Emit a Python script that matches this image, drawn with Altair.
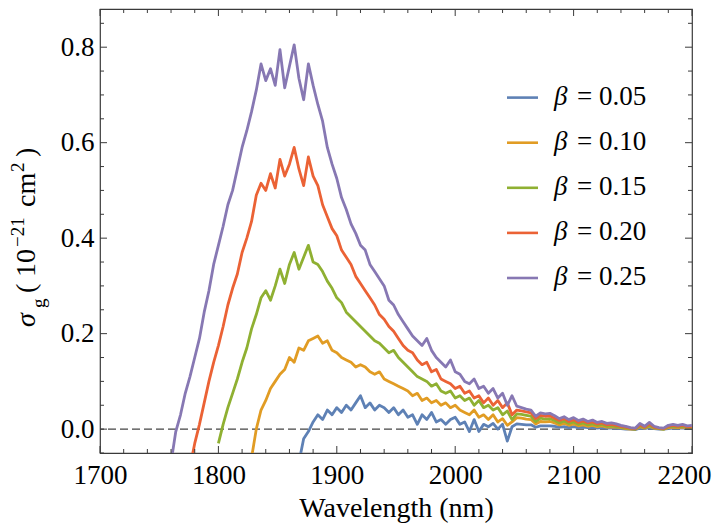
import altair as alt
import pandas as pd

# ---------------- data ----------------
STEP = 4  # nm sampling of every series

start_005 = 1868
vals_005 = [
    -0.07, -0.02, -0.005, 0.015, 0.03, 0.02, 0.04, 0.03, 0.045, 0.035,
    0.05, 0.04, 0.055, 0.07, 0.045, 0.055, 0.04, 0.05, 0.045, 0.035,
    0.045, 0.03, 0.04, 0.025, 0.03, 0.01, 0.03, 0.02, 0.035, 0.015,
    0.02, 0.01, 0.02, 0.025, 0.01, 0.015, -0.005, 0.02, -0.005, 0.01,
    0.005, 0.012, 0.0, 0.01, -0.025, 0.005, 0.011, 0.01, 0.009, 0.009,
    0.004, 0.007, 0.007, 0.007, 0.006, 0.004, 0.005, 0.003, 0.005, 0.003,
    0.004, 0.003, 0.003, 0.002, 0.003, 0.002, 0.002, 0.002, 0.001, 0.0,
    0.0, -0.001, 0.002, 0.001, 0.003, 0.001, 0.0, 0.0, 0.001, 0.002,
    0.002, 0.002, 0.002, 0.002,
]

start_010 = 1828
vals_010 = [
    -0.06, 0.0, 0.04, 0.06, 0.085, 0.10, 0.115, 0.125, 0.15, 0.14,
    0.17, 0.165, 0.185, 0.19, 0.195, 0.18, 0.185, 0.165, 0.16, 0.15,
    0.145, 0.14, 0.13, 0.135, 0.13, 0.12, 0.115, 0.12, 0.105, 0.10,
    0.095, 0.09, 0.085, 0.08, 0.07, 0.075, 0.06, 0.065, 0.055, 0.06,
    0.05, 0.055, 0.045, 0.05, 0.04, 0.035, 0.03, 0.04, 0.025, 0.03,
    0.02, 0.03, 0.015, 0.022, 0.008, 0.015, 0.024, 0.023, 0.021, 0.02,
    0.011, 0.016, 0.015, 0.016, 0.013, 0.009, 0.012, 0.008, 0.011, 0.007,
    0.009, 0.006, 0.008, 0.005, 0.007, 0.004, 0.005, 0.004, 0.003, 0.001,
    0.0, 0.0, 0.005, 0.002, 0.006, 0.002, 0.001, 0.0, 0.003, 0.004,
    0.003, 0.004, 0.003, 0.004,
]

start_015 = 1800
vals_015 = [
    -0.03, 0.01, 0.045, 0.075, 0.105, 0.14, 0.17, 0.21, 0.24, 0.275,
    0.29, 0.27, 0.30, 0.335, 0.305, 0.345, 0.37, 0.335, 0.36, 0.385,
    0.35, 0.345, 0.33, 0.31, 0.295, 0.275, 0.265, 0.245, 0.235, 0.225,
    0.215, 0.205, 0.195, 0.185, 0.18, 0.17, 0.16, 0.165, 0.15, 0.14,
    0.13, 0.12, 0.11, 0.105, 0.10, 0.09, 0.095, 0.08, 0.075, 0.08,
    0.065, 0.07, 0.06, 0.065, 0.05, 0.06, 0.045, 0.05, 0.04, 0.045,
    0.03, 0.038, 0.02, 0.032, 0.031, 0.029, 0.027, 0.016, 0.023, 0.021,
    0.022, 0.018, 0.013, 0.017, 0.012, 0.015, 0.01, 0.013, 0.009, 0.011,
    0.008, 0.01, 0.006, 0.007, 0.005, 0.004, 0.002, 0.001, 0.0, 0.007,
    0.003, 0.008, 0.003, 0.001, 0.0, 0.005, 0.006, 0.005, 0.006, 0.004, 0.005,
]

start_020 = 1776
vals_020 = [
    -0.08, -0.03, 0.01, 0.055, 0.10, 0.14, 0.175, 0.215, 0.26, 0.295,
    0.325, 0.37, 0.40, 0.435, 0.49, 0.515, 0.50, 0.535, 0.505, 0.565,
    0.53, 0.555, 0.59, 0.545, 0.51, 0.57, 0.53, 0.51, 0.47, 0.445,
    0.42, 0.405, 0.375, 0.36, 0.345, 0.32, 0.305, 0.29, 0.275, 0.26,
    0.24, 0.23, 0.215, 0.205, 0.19, 0.175, 0.165, 0.16, 0.145, 0.135,
    0.14, 0.12, 0.125, 0.105, 0.10, 0.095, 0.085, 0.09, 0.075, 0.08,
    0.065, 0.07, 0.055, 0.065, 0.05, 0.06, 0.045, 0.055, 0.03, 0.04,
    0.038, 0.036, 0.034, 0.022, 0.029, 0.027, 0.028, 0.023, 0.018, 0.022,
    0.016, 0.02, 0.014, 0.017, 0.013, 0.015, 0.011, 0.013, 0.009, 0.01,
    0.008, 0.006, 0.004, 0.002, 0.001, 0.009, 0.004, 0.011, 0.004, 0.002,
    0.001, 0.006, 0.008, 0.006, 0.008, 0.005, 0.006,
]

start_025 = 1760
vals_025 = [
    -0.07, -0.005, 0.03, 0.075, 0.11, 0.15, 0.19, 0.245, 0.29, 0.345,
    0.385, 0.425, 0.47, 0.50, 0.545, 0.59, 0.625, 0.665, 0.71, 0.765,
    0.73, 0.755, 0.72, 0.795, 0.715, 0.76, 0.805, 0.735, 0.69, 0.765,
    0.72, 0.68, 0.645, 0.59, 0.555, 0.525, 0.485, 0.46, 0.43, 0.41,
    0.385, 0.375, 0.345, 0.33, 0.315, 0.30, 0.27, 0.26, 0.24, 0.225,
    0.21, 0.195, 0.185, 0.175, 0.19, 0.165, 0.15, 0.14, 0.13, 0.145,
    0.12, 0.115, 0.10, 0.095, 0.105, 0.085, 0.09, 0.075, 0.085, 0.065,
    0.075, 0.05, 0.07, 0.048, 0.045, 0.042, 0.04, 0.027, 0.034, 0.032,
    0.033, 0.028, 0.022, 0.026, 0.02, 0.024, 0.018, 0.021, 0.016, 0.019,
    0.014, 0.016, 0.012, 0.013, 0.011, 0.008, 0.006, 0.003, 0.002, 0.012,
    0.006, 0.014, 0.006, 0.003, 0.002, 0.008, 0.01, 0.008, 0.01, 0.007,
    0.008,
]

series_labels = ["0.05", "0.10", "0.15", "0.20", "0.25"]
series_colors = ["#5E81B5", "#E19C24", "#8FB032", "#EB6235", "#8778B3"]
x_major = [1700, 1800, 1900, 2000, 2100, 2200]
x_minor = [v for v in range(1700, 2201, 20) if v % 100 != 0]
y_major = [0.0, 0.2, 0.4, 0.6, 0.8]
y_minor = [-0.05, 0.05, 0.1, 0.15, 0.25, 0.3, 0.35, 0.45, 0.5, 0.55, 0.65, 0.7, 0.75, 0.85]

# ---------------- build table ----------------
rows = []
for lab, st, vals in zip(series_labels,
                         [start_005, start_010, start_015, start_020, start_025],
                         [vals_005, vals_010, vals_015, vals_020, vals_025]):
    for i, v in enumerate(vals):
        rows.append({"wl": st + STEP * i, "v": v, "beta": lab})
df = pd.DataFrame(rows)

W, H = 592, 444
FONT = "Liberation Serif"
FRAME = "#3a3a3a"
XDOM = [1700, 2200]
YDOM = [-0.05, 0.88]
LW = 2.8

xscale = alt.Scale(domain=XDOM, nice=False, zero=False)
yscale = alt.Scale(domain=YDOM, nice=False, zero=False)
xaxis = alt.Axis(values=x_major, format="d", ticks=False, tickSize=0, domain=False, grid=False,
                 labelFont=FONT, labelFontSize=27, labelColor="black", labelPadding=9,
                 labelFlush=False,
                 labelOffset={"condition": {"test": "datum.value == 2200", "value": -8}, "value": 0},
                 title="Wavelength (nm)", titleFont=FONT, titleFontSize=28,
                 titleFontWeight="normal", titleColor="black", titlePadding=6)
yaxis = alt.Axis(values=y_major, format=".1f", ticks=False, tickSize=0, domain=False, grid=False,
                 labelFont=FONT, labelFontSize=27, labelColor="black", labelPadding=6,
                 labelFlush=False, title=None)

X = alt.X("wl:Q", scale=xscale, axis=xaxis)
Y = alt.Y("v:Q", scale=yscale, axis=yaxis)

zero = alt.Chart(pd.DataFrame({"v": [0.0]})).mark_rule(
    color="#444444", strokeDash=[8, 4], strokeWidth=1.1).encode(y=Y)

lines = alt.Chart(df).mark_line(clip=True, strokeWidth=LW, strokeJoin="round").encode(
    x=X, y=Y,
    color=alt.Color("beta:N", scale=alt.Scale(domain=series_labels, range=series_colors), legend=None),
)

layers = [zero, lines]

# inward frame ticks (data positions through the scales)
for vals, ln in [(x_major, 7), (x_minor, 4)]:
    d = pd.DataFrame({"wl": vals})
    layers.append(alt.Chart(d).mark_rule(color=FRAME, strokeWidth=1).encode(
        x=X, y=alt.value(H), y2=alt.value(H - ln)))
    layers.append(alt.Chart(d).mark_rule(color=FRAME, strokeWidth=1).encode(
        x=X, y=alt.value(0), y2=alt.value(ln)))
for vals, ln in [(y_major, 7), (y_minor, 4)]:
    d = pd.DataFrame({"v": vals})
    layers.append(alt.Chart(d).mark_rule(color=FRAME, strokeWidth=1).encode(
        y=Y, x=alt.value(0), x2=alt.value(ln)))
    layers.append(alt.Chart(d).mark_rule(color=FRAME, strokeWidth=1).encode(
        y=Y, x=alt.value(W), x2=alt.value(W - ln)))

# manual legend (italic beta)
one = pd.DataFrame({"a": [0]})
LEG_Y0, LEG_DY = 88.6, 45.1
for i, (lab, col) in enumerate(zip(series_labels, series_colors)):
    yy = LEG_Y0 + i * LEG_DY
    layers.append(alt.Chart(one).mark_rule(color=col, strokeWidth=2.6).encode(
        x=alt.value(407), x2=alt.value(438), y=alt.value(yy)))
    layers.append(alt.Chart(one).mark_text(
        text="β", font=FONT, fontSize=27, fontStyle="italic", align="left",
        baseline="middle", color="black").encode(x=alt.value(454), y=alt.value(yy - 1)))
    layers.append(alt.Chart(one).mark_text(
        text="= " + lab, font=FONT, fontSize=27, align="left",
        baseline="middle", color="black").encode(x=alt.value(477), y=alt.value(yy - 1)))

# y-axis title with sub/superscripts, rotated
title_parts = [
    ("σ", -65, 318, 28, "italic"),
    ("g", -55, 299, 19, "normal"),
    ("(", -65, 284, 28, "normal"),
    ("10", -65, 268, 28, "normal"),
    ("−21", -76, 238, 19, "normal"),
    ("cm", -65, 198, 28, "normal"),
    ("2", -76, 163, 19, "normal"),
    (")", -65, 148, 28, "normal"),
]
for txt, px, py, fs, st in title_parts:
    layers.append(alt.Chart(one).mark_text(
        text=txt, font=FONT, fontSize=fs, fontStyle=st, angle=270, align="left",
        baseline="alphabetic", color="black").encode(x=alt.value(px), y=alt.value(py)))

chart = alt.layer(*layers).properties(
    width=W, height=H,
    autosize=alt.AutoSizeParams(type="none"),
    padding={"left": 92, "top": 1, "right": 20, "bottom": 70},
).configure(font=FONT).configure_view(stroke=FRAME, strokeWidth=1.2)

chart.save("out.html", embed_options={"renderer": "svg", "actions": False})
